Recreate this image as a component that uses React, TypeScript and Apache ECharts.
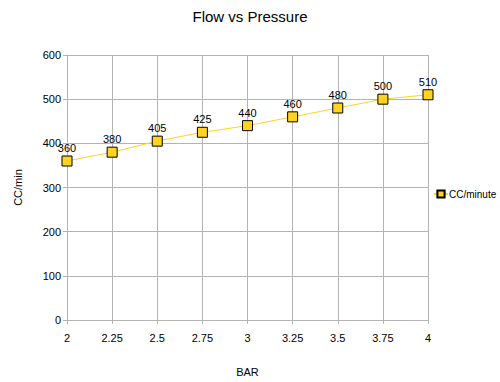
import React, { useEffect, useRef } from "react";
import * as echarts from "echarts";

const categories = ["2", "2.25", "2.5", "2.75", "3", "3.25", "3.5", "3.75", "4"];
const flowValues = [360, 380, 405, 425, 440, 460, 480, 500, 510];
const seriesName = "CC/minute";

export default function App() {
  const ref = useRef<HTMLDivElement>(null);
  useEffect(() => {
    if (!ref.current) return;
    const chart = echarts.init(ref.current, undefined, { renderer: "svg" });
    const font = "Liberation Sans, Arial, sans-serif";
    chart.setOption({
      animation: false,
      backgroundColor: "#ffffff",
      textStyle: { fontFamily: font },
      title: {
        text: "Flow vs Pressure",
        left: "center",
        top: 4,
        textStyle: { fontFamily: font, fontSize: 15, fontWeight: "normal", color: "#000" },
      },
      legend: {
        orient: "vertical",
        left: 428,
        top: 184,
        itemWidth: 14,
        itemHeight: 9,
        itemGap: 4,
        textStyle: { fontFamily: font, fontSize: 10, color: "#000", padding: [0, 0, 0, -4] },
        data: [{ name: seriesName }],
      },
      grid: { left: 67, right: 72, top: 55, bottom: 58 },
      xAxis: {
        type: "category",
        data: categories,
        boundaryGap: false,
        name: "BAR",
        nameLocation: "middle",
        nameGap: 46,
        nameTextStyle: { fontFamily: font, fontSize: 11, color: "#000" },
        axisLine: { lineStyle: { color: "#b3b3b3" } },
        axisTick: { show: true, length: 4, lineStyle: { color: "#b3b3b3" } },
        axisLabel: { color: "#000", fontSize: 11, fontFamily: font, margin: 12 },
        splitLine: { show: true, lineStyle: { color: "#b3b3b3" } },
      },
      yAxis: {
        type: "value",
        min: 0,
        max: 600,
        interval: 100,
        name: "CC/min",
        nameLocation: "middle",
        nameGap: 44,
        nameTextStyle: { fontFamily: font, fontSize: 11, color: "#000" },
        axisLine: { show: true, lineStyle: { color: "#b3b3b3" } },
        axisTick: { show: true, length: 4, lineStyle: { color: "#b3b3b3" } },
        axisLabel: { color: "#000", fontSize: 11, fontFamily: font, margin: 6 },
        splitLine: { show: true, lineStyle: { color: "#b3b3b3" } },
      },
      series: [
        {
          name: seriesName,
          type: "line",
          data: flowValues,
          symbol: "rect",
          symbolSize: 10,
          lineStyle: { color: "#ffd320", width: 1 },
          itemStyle: { color: "#ffd320", borderColor: "#000", borderWidth: 1 },
          label: {
            show: true,
            position: "top",
            distance: 2,
            color: "#000",
            fontSize: 11,
            fontFamily: font,
          },
        },
      ],
    });
    return () => chart.dispose();
  }, []);
  return <div ref={ref} style={{ width: 500, height: 382, position: "absolute", left: 0, top: 0 }} />;
}
